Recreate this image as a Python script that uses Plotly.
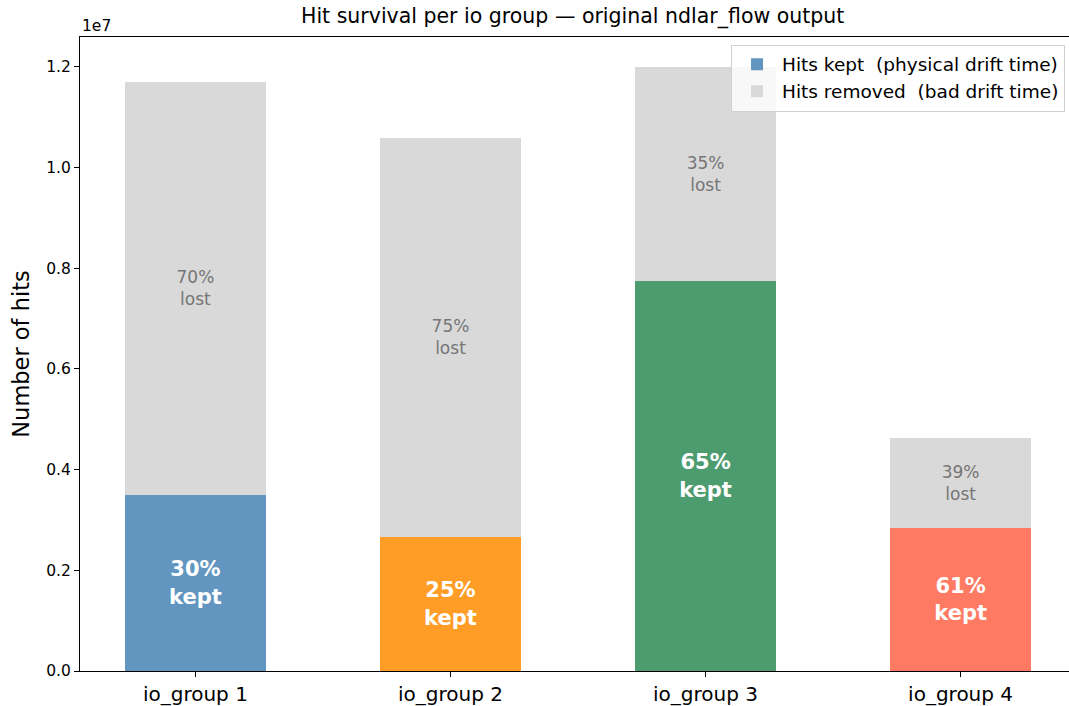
import plotly.graph_objects as go

# values (number of hits)
groups = ['io_group 1', 'io_group 2', 'io_group 3', 'io_group 4']
hits_kept = [3.50e6, 2.66e6, 7.75e6, 2.84e6]
hits_removed = [8.20e6, 7.93e6, 4.24e6, 1.79e6]
kept_colors = ['#6295bf', '#ff9d26', '#4d9c70', '#ff7a62']
removed_color = '#d9d9d9'
ytick_vals = [0, 0.2e7, 0.4e7, 0.6e7, 0.8e7, 1.0e7, 1.2e7]
ytick_text = ['0.0', '0.2', '0.4', '0.6', '0.8', '1.0', '1.2']

totals = [k + r for k, r in zip(hits_kept, hits_removed)]
kept_txt = ['%d%%<br>kept' % round(100 * k / t) for k, t in zip(hits_kept, totals)]
lost_txt = ['%d%%<br>lost' % round(100 * r / t) for r, t in zip(hits_removed, totals)]

font = 'DejaVu Sans'

fig = go.Figure()
fig.add_trace(go.Bar(
    x=groups, y=hits_kept, width=0.55,
    name='Hits kept  (physical drift time)',
    marker=dict(color=kept_colors, line=dict(width=0)),
    text=kept_txt, textposition='inside', insidetextanchor='middle',
    textfont=dict(family=font, size=21, color='white', weight='bold'),
    constraintext='none', hoverinfo='skip'))
fig.add_trace(go.Bar(
    x=groups, y=hits_removed, width=0.55,
    name='Hits removed  (bad drift time)',
    marker=dict(color=removed_color, line=dict(width=0)),
    text=lost_txt, textposition='inside', insidetextanchor='middle',
    textfont=dict(family=font, size=17, color='#767676'),
    constraintext='none', hoverinfo='skip'))

fig.update_layout(
    width=1069, height=706,
    margin=dict(l=80, r=0, t=37, b=35, autoexpand=False),
    barmode='stack',
    plot_bgcolor='white', paper_bgcolor='white',
    font=dict(family=font, color='black'),
    showlegend=True,
    legend=dict(x=0.996, y=0.988, xanchor='right', yanchor='top',
                bgcolor='rgba(255,255,255,0.8)', bordercolor='#d0d0d0', borderwidth=1,
                font=dict(size=18.5, family=font), traceorder='normal',
                itemwidth=40),
)
fig.update_xaxes(range=[-0.4525, 3.425], showline=True, linecolor='black', linewidth=1,
                 mirror=True, ticks='outside', ticklen=5, tickcolor='black',
                 tickfont=dict(size=20), showgrid=False)
fig.update_yaxes(range=[0, 1.259e7], showline=True, linecolor='black', linewidth=1,
                 ticks='outside', ticklen=5, tickcolor='black',
                 tickvals=ytick_vals, ticktext=ytick_text, tickfont=dict(size=15.5),
                 showgrid=False, zeroline=False,
                 title=dict(text='Number of hits', font=dict(size=22.5), standoff=10))

fig.add_annotation(text='Hit survival per io group — original ndlar_flow output',
                   xref='paper', yref='paper', x=0.498, y=1, yshift=6,
                   xanchor='center', yanchor='bottom', showarrow=False,
                   font=dict(size=20.5, family=font))
fig.add_annotation(text='1e7', xref='paper', yref='paper', x=0, y=1, yshift=0,
                   xanchor='left', yanchor='bottom', showarrow=False,
                   font=dict(size=15.5, family=font))

fig.write_html('out.html', config={'displayModeBar': False},
               post_script="document.body.style.margin='0';document.body.style.overflow='hidden';")
